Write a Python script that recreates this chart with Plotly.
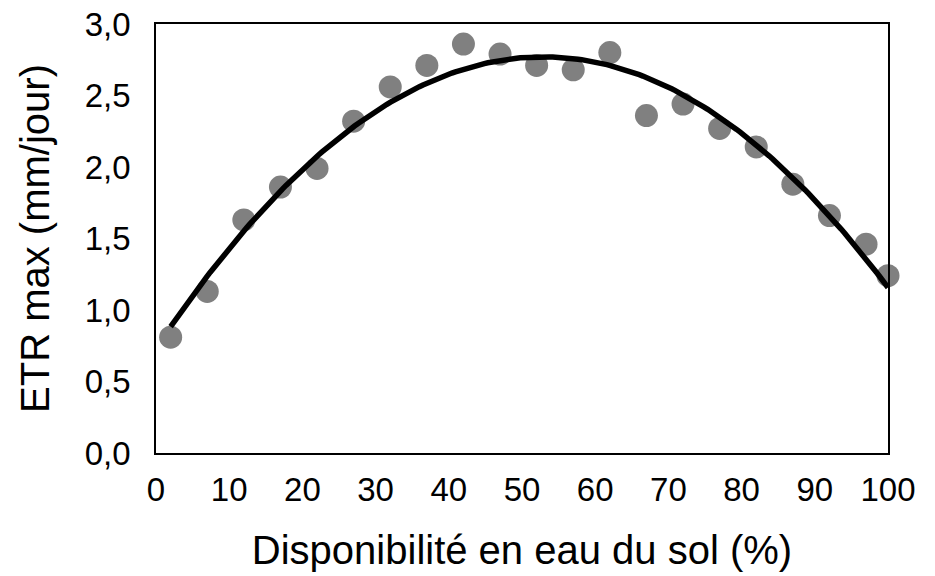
import numpy as np
import plotly.graph_objects as go

# Soil water availability (%) and maximum actual evapotranspiration (mm/day)
disponibilite = [2, 7, 12, 17, 22, 27, 32, 37, 42, 47, 52, 57, 62, 67, 72, 77, 82, 87, 92, 97, 100]
etr_max = [0.81, 1.13, 1.63, 1.86, 1.99, 2.32, 2.56, 2.71, 2.86, 2.79, 2.71, 2.68, 2.80, 2.36,
           2.44, 2.27, 2.14, 1.88, 1.66, 1.46, 1.24]

x_ticks = [0, 10, 20, 30, 40, 50, 60, 70, 80, 90, 100]
y_ticks = [0.0, 0.5, 1.0, 1.5, 2.0, 2.5, 3.0]

# Second-order polynomial trend line through the observations
coef = np.polyfit(disponibilite, etr_max, 2)
x_fit = np.linspace(min(disponibilite), max(disponibilite), 200)
y_fit = np.polyval(coef, x_fit)

FONT = "Liberation Sans, Arial, sans-serif"

fig = go.Figure()
fig.add_trace(go.Scatter(
    x=disponibilite, y=etr_max, mode="markers",
    marker=dict(size=23, color="#808080", line=dict(width=0)),
    showlegend=False, cliponaxis=False,
))
fig.add_trace(go.Scatter(
    x=x_fit, y=y_fit, mode="lines",
    line=dict(color="black", width=5.5),
    showlegend=False,
))

fig.update_layout(
    width=935, height=576,
    margin=dict(l=156, r=47, t=24, b=123),
    paper_bgcolor="white", plot_bgcolor="white",
    separators=", ",
    font=dict(family=FONT, color="black", size=33),
)
fig.update_xaxes(
    range=[0, 100], tickvals=x_ticks, ticks="", showgrid=False, zeroline=False,
    showline=True, linecolor="black", linewidth=1.5, mirror=True,
    tickfont=dict(size=33, family=FONT, color="black"), ticklabelstandoff=7,
    title=dict(text="Disponibilité en eau du sol (%)", font=dict(size=40, family=FONT, color="black"),
               standoff=29),
    automargin=False,
)
fig.update_yaxes(
    range=[0, 3], tickvals=y_ticks, tickformat=".1f", ticks="", showgrid=False, zeroline=False,
    showline=True, linecolor="black", linewidth=1.5, mirror=True,
    tickfont=dict(size=33, family=FONT, color="black"), ticklabelstandoff=17,
    title=dict(text="ETR max (mm/jour)", font=dict(size=40, family=FONT, color="black"),
               standoff=23),
    automargin=False,
)

fig.write_html("out.html")
